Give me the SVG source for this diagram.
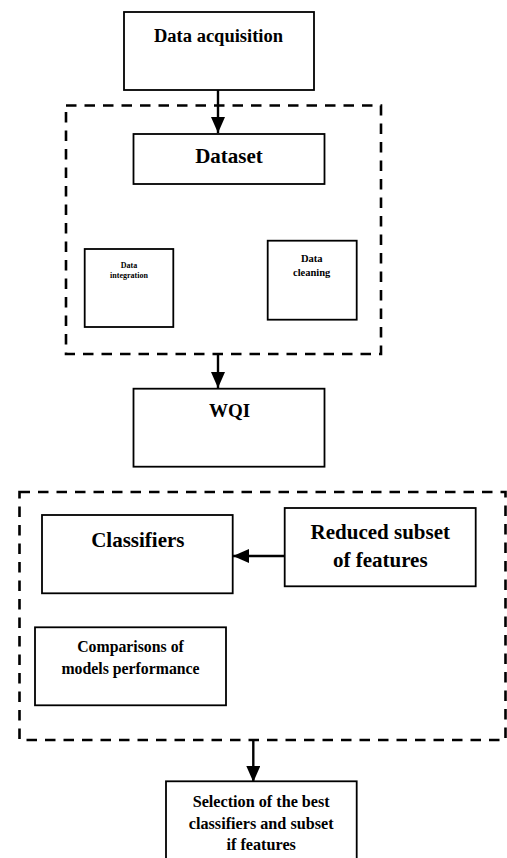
<svg xmlns="http://www.w3.org/2000/svg" width="507" height="858" viewBox="0 0 507 858">
<style>
.box{fill:#fff;stroke:#000;stroke-width:1.8}
.dash{fill:none;stroke:#000;stroke-width:2.6;stroke-dasharray:10.5,8}
.t{font-family:"Liberation Serif","Times New Roman","DejaVu Serif",serif;font-weight:bold;fill:#000;text-anchor:middle}
.c{stroke:#000;stroke-width:2.4;fill:none}
</style>
<defs>
<marker id="ah" markerUnits="userSpaceOnUse" markerWidth="16" markerHeight="14" refX="16" refY="7" orient="auto">
<path d="M0,0 L16,7 L0,14 Z" fill="#000"/>
</marker>
</defs>
<rect width="507" height="858" fill="#fff"/>
<g id="group1"><rect class="dash" x="66" y="105.5" width="315" height="248.5"/></g>
<g id="group2"><rect class="dash" x="19.5" y="492" width="486" height="248"/></g>
<g id="data-acquisition"><rect class="box" x="124" y="12" width="190" height="78"/><text class="t" x="218.5" y="41.7" font-size="18.5">Data acquisition</text></g>
<g id="dataset"><rect class="box" x="133.5" y="134" width="191" height="50"/><text class="t" x="229" y="163" font-size="21">Dataset</text></g>
<g id="data-integration"><rect class="box" x="84.7" y="249" width="88.6" height="78"/><text class="t" x="129" y="268" font-size="8">Data</text><text class="t" x="129" y="278" font-size="8">integration</text></g>
<g id="data-cleaning"><rect class="box" x="267.7" y="240.7" width="89" height="79"/><text class="t" x="311.7" y="262" font-size="10.5">Data</text><text class="t" x="311.7" y="276" font-size="10.5">cleaning</text></g>
<g id="wqi"><rect class="box" x="133.5" y="388.7" width="191" height="78"/><text class="t" x="229.5" y="417" font-size="19">WQI</text></g>
<g id="classifiers"><rect class="box" x="42" y="515" width="190.7" height="78.3"/><text class="t" x="137.8" y="547" font-size="21">Classifiers</text></g>
<g id="reduced-subset"><rect class="box" x="284.7" y="508" width="191" height="78.3"/><text class="t" x="380.3" y="539" font-size="21">Reduced subset</text><text class="t" x="380.3" y="567" font-size="21">of features</text></g>
<g id="comparisons"><rect class="box" x="35" y="627.3" width="191" height="78"/><text class="t" x="130.5" y="652" font-size="15.8">Comparisons of</text><text class="t" x="130.5" y="673.5" font-size="15.8">models performance</text></g>
<g id="selection"><rect class="box" x="166" y="781.3" width="190.7" height="90"/><text class="t" x="261.2" y="807" font-size="16.2">Selection of the best</text><text class="t" x="261.2" y="829" font-size="16.2">classifiers and subset</text><text class="t" x="261.2" y="849.5" font-size="16.2">if features</text></g>
<g id="connectors">
<line class="c" x1="218" y1="90" x2="218" y2="133" marker-end="url(#ah)"/>
<line class="c" x1="218" y1="354" x2="218" y2="388" marker-end="url(#ah)"/>
<line class="c" x1="284.7" y1="556" x2="233" y2="556" marker-end="url(#ah)"/>
<line class="c" x1="253.3" y1="740" x2="253.3" y2="782" marker-end="url(#ah)"/>
</g>
</svg>
